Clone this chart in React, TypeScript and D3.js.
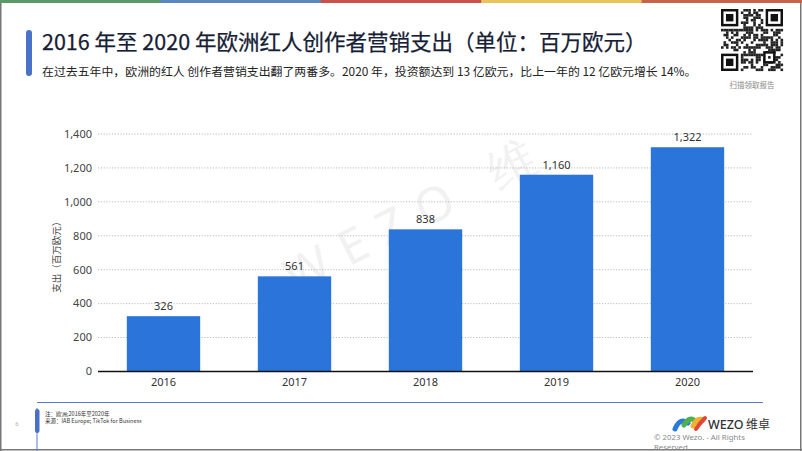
import React from "react";
import * as d3 from "d3";

const years = ["2016", "2017", "2018", "2019", "2020"];
const spend = [326, 561, 838, 1160, 1322];
const yTicks = [0, 200, 400, 600, 800, 1000, 1200, 1400];
const bandColors = ["#5a9a68", "#5b86bf", "#c9514a", "#e8c55a", "#c8624a"];

const W = 802;
const H = 451;
const FONT = "'Noto Sans CJK SC', 'Noto Sans', sans-serif";
const NUMFONT = "'Noto Sans', 'Open Sans', sans-serif";

function qrCells(n: number): boolean[][] {
  const cells: boolean[][] = [];
  let s = 1234567;
  for (let r = 0; r < n; r++) {
    const row: boolean[] = [];
    for (let c = 0; c < n; c++) {
      s = (s * 1103515245 + 12345) & 0x7fffffff;
      row.push(((s >> 16) & 1) === 1);
    }
    cells.push(row);
  }
  return cells;
}

export default function App() {
  const margin = { left: 98, right: 753, top: 134, bottom: 371.5 };
  const x = d3.scaleBand<string>().domain(years).range([margin.left, margin.right]).paddingInner(0.44).paddingOuter(0.22);
  const y = d3.scaleLinear().domain([0, 1400]).range([margin.bottom, margin.top]);
  const fmt = d3.format(",");

  const qrN = 25;
  const qrX = 721, qrY = 9, qrS = 62;
  const cs = qrS / qrN;
  const cells = qrCells(qrN);
  const finder = (fx: number, fy: number) => (
    <g key={`f${fx}-${fy}`}>
      <rect x={qrX + fx * cs} y={qrY + fy * cs} width={7 * cs} height={7 * cs} fill="#111" />
      <rect x={qrX + (fx + 1) * cs} y={qrY + (fy + 1) * cs} width={5 * cs} height={5 * cs} fill="#fff" />
      <rect x={qrX + (fx + 2) * cs} y={qrY + (fy + 2) * cs} width={3 * cs} height={3 * cs} fill="#111" />
    </g>
  );
  const inFinder = (r: number, c: number) =>
    (r < 8 && c < 8) || (r < 8 && c >= qrN - 8) || (r >= qrN - 8 && c < 8);

  return (
    <svg width={W} height={H} style={{ position: "absolute", left: 0, top: 0, background: "#fff" }}>
      <rect x={0} y={0} width={W} height={H} fill="#fff" />
      {/* top color band */}
      {bandColors.map((c, i) => (
        <rect key={c} x={(i * W) / 5} y={0} width={W / 5 + 1} height={3} fill={c} />
      ))}
      {/* frame */}
      <line x1={0.75} y1={3} x2={0.75} y2={H} stroke="#777" strokeWidth={1.5} />
      <line x1={W - 1.25} y1={3} x2={W - 1.25} y2={H} stroke="#777" strokeWidth={1.5} />
      <line x1={0} y1={H - 1.25} x2={W} y2={H - 1.25} stroke="#777" strokeWidth={1.5} />

      {/* title */}
      <rect x={26} y={30} width={6} height={46} rx={3} fill="#4a72c8" />
      <text x={42} y={50} fontFamily={FONT} fontSize={21.5} fontWeight={400} fill="#152035" stroke="#152035" strokeWidth={0.25}>
        2016 年至 2020 年欧洲红人创作者营销支出（单位：百万欧元）
      </text>
      <text x={42} y={75.5} fontFamily={FONT} fontSize={11.9} fill="#222">
        在过去五年中，欧洲的红人 创作者营销支出翻了两番多。2020 年，投资额达到 13 亿欧元，比上一年的 12 亿欧元增长 14%。
      </text>

      {/* QR */}
      <g>
        {cells.map((row, r) =>
          row.map((on, c) =>
            on && !inFinder(r, c) ? (
              <rect key={`${r}-${c}`} x={qrX + c * cs} y={qrY + r * cs} width={cs + 0.1} height={cs + 0.1} fill="#222" />
            ) : null
          )
        )}
        {finder(0, 0)}
        {finder(qrN - 7, 0)}
        {finder(0, qrN - 7)}
        <rect x={qrX + 17 * cs} y={qrY + 17 * cs} width={5 * cs} height={5 * cs} fill="#111" />
        <rect x={qrX + 18 * cs} y={qrY + 18 * cs} width={3 * cs} height={3 * cs} fill="#fff" />
        <rect x={qrX + 19 * cs} y={qrY + 19 * cs} width={cs} height={cs} fill="#111" />
      </g>
      <text x={752} y={88} textAnchor="middle" fontFamily={FONT} fontSize={7.5} fill="#888">
        扫描领取报告
      </text>

      {/* watermark */}
      <text
        x={0}
        y={0}
        transform="translate(425,228) rotate(-27)"
        textAnchor="middle"
        fontFamily={NUMFONT}
        fontSize={48}
        letterSpacing={16}
        fill="#000"
        opacity={0.05}
      >
        WEZO 维
      </text>

      {/* grid + y ticks */}
      {yTicks.map((t) => (
        <g key={t}>
          {t > 0 && (
            <line x1={margin.left} x2={margin.right} y1={y(t)} y2={y(t)} stroke="#bbb" strokeWidth={1} strokeDasharray="1.2,1.6" />
          )}
          <text x={92} y={y(t)} dy="0.35em" textAnchor="end" fontFamily={NUMFONT} fontSize={11} fill="#444">
            {fmt(t)}
          </text>
        </g>
      ))}
      <text
        transform={`translate(57,${(margin.top + margin.bottom) / 2 + 2}) rotate(-90)`}
        textAnchor="middle"
        dy="0.35em"
        fontFamily={FONT}
        fontSize={9.5}
        fill="#444"
      >
        支出（百万欧元）
      </text>

      {/* bars */}
      {years.map((yr, i) => (
        <g key={yr}>
          <rect x={x(yr)} y={y(spend[i])} width={x.bandwidth()} height={y(0) - y(spend[i])} fill="#2a74da" />
          <text x={(x(yr) as number) + x.bandwidth() / 2} y={y(spend[i]) - 6} textAnchor="middle" fontFamily={NUMFONT} fontSize={11} fill="#333">
            {fmt(spend[i])}
          </text>
          <text x={(x(yr) as number) + x.bandwidth() / 2} y={386} textAnchor="middle" fontFamily={NUMFONT} fontSize={11} fill="#333">
            {yr}
          </text>
        </g>
      ))}
      <line x1={margin.left} x2={margin.right} y1={y(0)} y2={y(0)} stroke="#111" strokeWidth={1.3} />

      {/* footer */}
      <line x1={37} x2={763} y1={402.5} y2={402.5} stroke="#5b7bd0" strokeWidth={1} />
      <line x1={37} x2={37} y1={408} y2={H} stroke="#5b7bd0" strokeWidth={1} />
      <rect x={35} y={409} width={4.5} height={24} rx={2.2} fill="#4a6fc8" />
      <text x={17} y={426} fontFamily={NUMFONT} fontSize={6} fill="#aaa" textAnchor="middle">6</text>
      <text x={45} y={416} fontFamily={FONT} fontSize={5.5} fill="#333">注：欧洲;2016年至2020年</text>
      <text x={45} y={422.5} fontFamily={FONT} fontSize={5.5} fill="#333">来源：IAB Europe; TikTok for Business</text>

      {/* logo */}
      <g strokeLinecap="round" fill="none">
        <path d="M675,429 Q680,417 688,423" stroke="#2a7ad8" strokeWidth={5} />
        <path d="M684,425 Q690,415 696,422" stroke="#4caf50" strokeWidth={5} />
        <path d="M693,426 Q697,417 703,420" stroke="#f2b230" strokeWidth={5} />
        <path d="M696,429 Q700,423 705,418" stroke="#e0463a" strokeWidth={4} />
      </g>
      <text x={708} y={429} fontFamily={NUMFONT} fontSize={12.5} fontWeight={500} fill="#333">WEZO</text>
      <text x={746} y={429} fontFamily={FONT} fontSize={12} fill="#333">维卓</text>
      <text x={654} y={439.5} fontFamily={NUMFONT} fontSize={7.8} fill="#888">© 2023 Wezo. - All Rights</text>
      <text x={654} y={449.5} fontFamily={NUMFONT} fontSize={7.8} fill="#888">Reserved</text>
    </svg>
  );
}
